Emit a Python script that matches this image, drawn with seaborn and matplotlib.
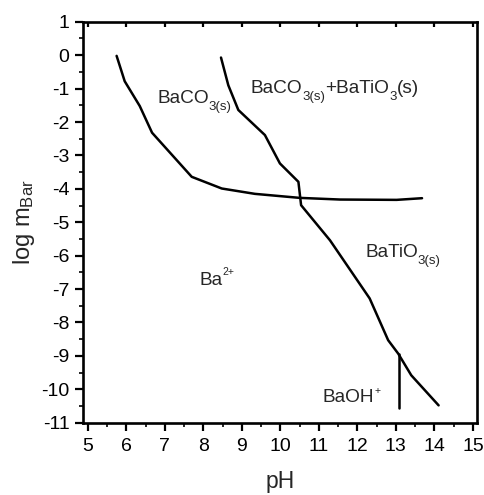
import matplotlib
matplotlib.use("Agg")
import matplotlib.pyplot as plt
import matplotlib.transforms as mtransforms
import seaborn as sns
import pandas as pd
from matplotlib.ticker import MultipleLocator

# Data
baco3_ph = [5.75, 5.96, 6.35, 6.67, 7.70, 8.48, 9.34, 10.50, 11.55, 13.02, 13.68]
baco3_log = [-0.02, -0.78, -1.52, -2.32, -3.64, -3.99, -4.15, -4.27, -4.32, -4.33, -4.28]

batio3_ph = [8.46, 8.65, 8.91, 9.60, 9.99, 10.47, 10.54, 11.29, 12.32, 12.80, 13.06, 13.40, 14.11]
batio3_log = [-0.07, -0.90, -1.64, -2.39, -3.24, -3.79, -4.49, -5.54, -7.28, -8.53, -8.93, -9.58, -10.48]

baoh_ph = [13.08, 13.08]
baoh_log = [-8.93, -10.57]

x_ticks = list(range(5, 16))
y_ticks = list(range(-11, 2))

df = pd.concat([
    pd.DataFrame({"pH": baco3_ph, "log": baco3_log, "curve": "BaCO3"}),
    pd.DataFrame({"pH": batio3_ph, "log": batio3_log, "curve": "BaTiO3"}),
    pd.DataFrame({"pH": baoh_ph, "log": baoh_log, "curve": "BaOH"}),
])

sns.set_style("ticks")
plt.rcParams["font.family"] = ["Liberation Sans", "DejaVu Sans"]
plt.rcParams["axes.unicode_minus"] = False
plt.rcParams["mathtext.fontset"] = "custom"
plt.rcParams["mathtext.rm"] = "Liberation Sans"
plt.rcParams["mathtext.it"] = "Liberation Sans:italic"
plt.rcParams["mathtext.bf"] = "Liberation Sans:bold"

fig = plt.figure(figsize=(4.84, 4.95), dpi=100)
ax = fig.add_axes([0.1725, 0.146, 0.8125, 0.810])

for name in ["BaCO3", "BaTiO3", "BaOH"]:
    sub = df[df["curve"] == name]
    sns.lineplot(data=sub, x="pH", y="log", sort=False, estimator=None,
                 color="black", linewidth=1.8, ax=ax)

ax.set_xlim(4.89, 15.1)
ax.set_ylim(-11, 1)
ax.set_xticks(x_ticks)
ax.set_yticks(y_ticks)
ax.xaxis.set_minor_locator(MultipleLocator(0.5))
ax.yaxis.set_minor_locator(MultipleLocator(0.5))

for s in ax.spines.values():
    s.set_linewidth(1.9)
    s.set_color("black")

ax.tick_params(which="major", direction="out", length=6, width=1.6,
               labelsize=14, colors="black")
ax.tick_params(axis="x", which="major", pad=5)
ax.tick_params(axis="y", which="major", pad=4)
ax.tick_params(which="minor", direction="out", length=2.8, width=1.4)
ax.tick_params(axis="x", which="major", top=True)
ax.tick_params(axis="x", which="minor", top=False)
ax.tick_params(axis="y", which="both", right=False)
# top major ticks point inward and are shorter
for t in ax.xaxis.get_major_ticks():
    t.tick2line.set_marker(3)  # TICKDOWN
    t.tick2line.set_markersize(3.8)

ax.set_xlabel("pH", fontsize=16.5, labelpad=11)
ax.set_ylabel(r"log m$_{\mathrm{Bar}}$", fontsize=17, labelpad=3)


def rich(x, y, pieces):
    renderer = fig.canvas.get_renderer()
    dx = 0.0
    for s, size, dy in pieces:
        tr = mtransforms.offset_copy(ax.transData, fig=fig, x=dx, y=dy, units="dots")
        t = ax.text(x, y, s, fontsize=size, va="baseline", ha="left", transform=tr)
        dx += t.get_window_extent(renderer).width


N, S, P = 13.7, 9.5, 7.5
rich(6.80, -1.44, [("BaCO", N, 0), ("3(s)", S, -7)])
rich(9.23, -1.13, [("BaCO", N, 0), ("3(s)", S, -7), ("+BaTiO", N, 0), ("3", S, -7), ("(s)", N, 0)])
rich(12.20, -6.05, [("BaTiO", N, 0), ("3(s)", S, -7)])
rich(7.90, -6.88, [("Ba", N, 0), ("2+", P, 10)])
rich(11.10, -10.38, [("BaOH", N, 0), ("+", P, 8)])

fig.savefig("out.png", dpi=100)
